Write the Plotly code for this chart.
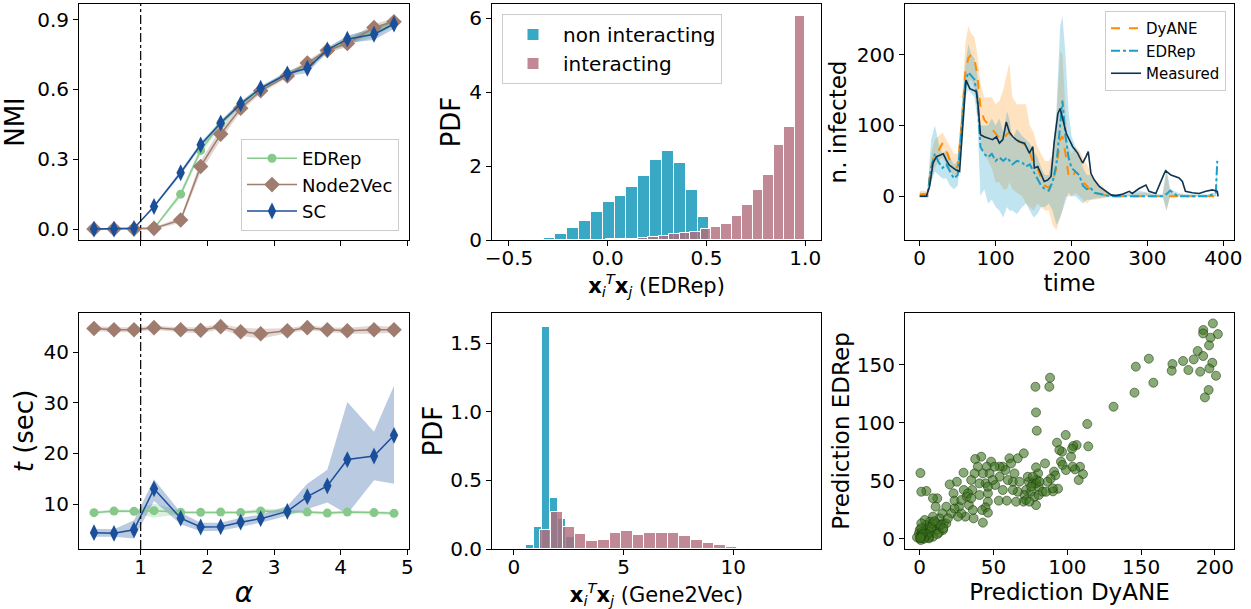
import plotly.graph_objects as go

# ---------------- data: panel A / B (vs alpha) ----------------
alpha = [0.3, 0.6, 0.9, 1.2, 1.6, 1.9, 2.2, 2.5, 2.8, 3.2, 3.5, 3.8, 4.1, 4.5, 4.8]

nmi_edrep = [0, 0, 0, 0.003, 0.150, 0.338, 0.452, 0.535, 0.598, 0.668, 0.700, 0.765, 0.810, 0.845, 0.890]
nmi_edrep_err = [0, 0, 0, 0.005, 0.015, 0.015, 0.015, 0.012, 0.010, 0.010, 0.012, 0.012, 0.020, 0.020, 0.015]
nmi_n2v = [0, 0, 0, 0.003, 0.039, 0.269, 0.408, 0.519, 0.594, 0.658, 0.713, 0.767, 0.797, 0.866, 0.891]
nmi_n2v_err = [0, 0, 0, 0.005, 0.012, 0.025, 0.025, 0.015, 0.012, 0.010, 0.012, 0.010, 0.015, 0.015, 0.015]
nmi_sc = [0, 0, 0.003, 0.097, 0.242, 0.362, 0.456, 0.538, 0.605, 0.667, 0.691, 0.770, 0.816, 0.837, 0.881]
nmi_sc_err = [0, 0, 0, 0.005, 0.010, 0.010, 0.010, 0.010, 0.010, 0.010, 0.020, 0.010, 0.015, 0.025, 0.020]

t_edrep = [8.29, 8.6, 8.55, 8.68, 8.35, 8.35, 8.4, 8.3, 8.6, 8.5, 8.4, 8.2, 8.4, 8.3, 8.15]
t_edrep_err = [0.3, 0.3, 0.3, 1.4, 0.3, 0.3, 0.3, 0.3, 0.5, 0.3, 0.3, 0.3, 0.3, 0.3, 0.3]
t_n2v = [44.74, 44.5, 44.5, 44.9, 44.5, 44.4, 45.1, 44.1, 43.7, 44.3, 44.9, 44.5, 44.3, 44.5, 44.5]
t_n2v_err = [0.5, 0.5, 0.5, 0.4, 0.5, 0.6, 0.5, 0.8, 1.0, 0.5, 0.5, 0.5, 0.6, 0.8, 0.6]
t_sc = [4.33, 4.2, 4.9, 13.0, 7.2, 5.45, 5.5, 6.4, 7.1, 8.55, 11.45, 13.6, 18.8, 19.5, 23.6]
t_sc_lo = [3.5, 3.5, 3.2, 10.6, 6.0, 4.6, 4.7, 5.5, 6.3, 7.7, 9.0, 10.3, 8.0, 14.7, 14.0]
t_sc_hi = [5.1, 5.0, 6.8, 14.9, 8.3, 6.3, 6.3, 7.3, 7.9, 9.6, 14.0, 16.8, 30.2, 24.3, 33.4]

# ---------------- data: panel C / D (histograms) ----------------
edrep_non_edges = [-0.325, -0.265, -0.205, -0.145, -0.085, -0.025, 0.035, 0.095, 0.155, 0.215,
                   0.275, 0.335, 0.395, 0.455, 0.515]
edrep_non_pdf = [0.054, 0.16, 0.315, 0.52, 0.76, 1.02, 1.2, 1.43, 1.73, 2.15, 2.41, 2.08, 1.35, 0.61]
edrep_int_edges = [-0.06, -0.007, 0.046, 0.099, 0.152, 0.205, 0.258, 0.311, 0.364, 0.417, 0.47,
                   0.523, 0.576, 0.629, 0.682, 0.735, 0.788, 0.841, 0.894, 0.947, 1.0]
edrep_int_pdf = [0.01, 0.02, 0.03, 0.036, 0.054, 0.07, 0.12, 0.15, 0.2, 0.225, 0.31, 0.34, 0.43,
                 0.64, 0.95, 1.35, 1.76, 2.56, 3.06, 6.05]

gene_non_edges = [0.545, 0.915, 1.285, 1.655, 2.025, 2.395, 2.765, 3.135]
gene_non_pdf = [0.027, 0.16, 1.62, 0.374, 0.217, 0.09, 0.01]
gene_int_edges = [1.18, 1.71, 2.24, 2.77, 3.30, 3.83, 4.36, 4.89, 5.42, 5.95, 6.48, 7.01, 7.54,
                  8.07, 8.60, 9.13, 9.66, 10.19, 10.72]
gene_int_pdf = [0.138, 0.268, 0.157, 0.111, 0.058, 0.065, 0.118, 0.13, 0.101, 0.118, 0.114, 0.114,
                0.094, 0.065, 0.043, 0.027, 0.015, 0.005]

# ---------------- data: panel E (time series) ----------------
meas_time = [0, 8.8, 13, 17.5, 22, 26, 31, 35, 39, 44, 48, 52.5, 55, 59, 61, 66, 70, 74.5, 77, 80,
             85, 90, 96, 101, 105, 109.5, 114, 118, 122.6, 127, 131, 138, 144.5, 149, 151, 155.5,
             160, 164, 168.6, 173, 177, 182, 185, 188, 193, 197, 201.5, 208, 214.6, 219, 222, 225.6,
             230, 236.5, 245, 252, 258, 267, 276, 280, 289, 298, 302, 311, 322, 324, 331, 337,
             341.7, 346, 350, 359, 368, 377, 385.5, 392, 393]
measured = [0, 0, 14, 47, 56, 58, 60, 51, 44, 40, 37, 35, 70, 136, 164, 152, 150, 148, 127, 87,
            84, 82, 80, 84, 75, 80, 105, 91, 84, 80, 77, 75, 61, 70, 40, 42, 32, 21, 23, 28,
            75, 117, 124, 112, 89, 80, 70, 61, 47, 56, 63, 32, 23, 14, 7, 2, 1, 3, 7, 4,
            11, 16, 7, 4, 32, 36, 30, 28, 26, 21, 7, 5, 4, 7, 9, 7, 0]

time = [0, 10, 15, 20, 25, 30, 35, 40, 45, 50, 55, 60, 64, 68, 72, 76, 80, 85, 90, 95, 100, 105,
        110, 115, 118, 122, 128, 135, 140, 145, 150, 155, 160, 165, 170, 175, 180, 185, 188, 192,
        196, 200, 205, 210, 215, 220, 225, 230, 240, 250, 260, 270, 280, 290, 300, 310, 320, 325,
        330, 340, 350, 360, 370, 380, 390, 392]
dyane = [3, 3, 40, 62, 65, 75, 65, 50, 45, 40, 100, 175, 195, 200, 195, 170, 125, 108, 102, 95, 88,
         82, 80, 88, 90, 82, 80, 76, 72, 62, 45, 40, 25, 15, 12, 20, 40, 80, 85, 60, 30, 25, 35,
         30, 20, 15, 8, 5, 2, 0, 0, 0, 0, 0, 0, 0, 0, 0, 0, 0, 0, 0, 0, 0, 0, 0]
dyane_lo = [0, 0, 20, 40, 50, 55, 45, 35, 30, 25, 80, 150, 160, 165, 150, 120, 80, 60, 50, 40, 20,
            20, 10, 10, 20, 10, 5, 0, -10, -15, -20, -10, -15, -20, -20, -40, -48, -30, -20, 0, 0,
            0, 5, 0, -5, -10, -5, -5, -3, 0, 0, 0, 0, 0, 0, 0, 0, -20, 0, 0, 0, 0, 0, 0, 0, 0]
dyane_hi = [8, 8, 60, 80, 85, 90, 80, 70, 60, 60, 120, 215, 240, 230, 225, 200, 160, 140, 140, 140,
            130, 135, 150, 175, 188, 140, 130, 130, 130, 100, 90, 70, 60, 50, 50, 60, 110, 205, 200,
            120, 70, 60, 70, 65, 55, 45, 35, 25, 15, 3, 2, 2, 3, 5, 5, 2, 2, 35, 5, 3, 2, 2, 2, 2, 2, 2]
edrep_ts = [0, 0, 40, 60, 48, 40, 45, 35, 25, 30, 100, 160, 175, 170, 165, 140, 70, 60, 55, 60, 50,
            55, 50, 55, 50, 45, 50, 48, 42, 45, 35, 25, 15, 10, 8, 20, 45, 100, 135, 85, 55, 40, 35,
            30, 15, 10, 12, 5, 3, 0, 0, 0, 0, 0, 0, 0, 0, 3, 8, 0, 0, 0, 0, 0, 5, 50]
edrep_lo = [0, 0, 20, 35, 30, 25, 25, 15, 10, 15, 80, 140, 150, 145, 140, 110, 0, 10, -10, -5, -15,
            -20, -30, -15, -20, -20, -25, -15, -10, -20, -30, -25, -15, -15, -10, -20, -40, -30, -20,
            -10, 5, 0, 0, -5, -10, -5, -5, -3, -2, 0, 0, 0, 0, 0, 0, 0, 0, -20, 0, 0, 0, 0, 0, 0, 0, 10]
edrep_hi = [5, 5, 80, 100, 75, 60, 65, 55, 45, 50, 120, 185, 215, 200, 195, 170, 100, 100, 100, 110,
            100, 110, 90, 120, 110, 80, 95, 85, 80, 75, 65, 55, 40, 30, 30, 60, 120, 240, 255, 200,
            120, 85, 70, 60, 40, 30, 30, 20, 10, 3, 3, 5, 5, 8, 5, 3, 3, 40, 10, 5, 3, 3, 3, 3, 5, 58]

# ---------------- data: panel F (scatter) ----------------
pred_dyane = [192.1, 198.6, 202, 197, 196, 192, 188.3, 192, 198.2, 196.2, 190, 200.7, 195.7, 193.2,
              185.6, 182, 178.4, 171.2, 170.7, 158.3, 155.2, 146.4, 145.5, 131.3, 78.4, 87.8, 88.3,
              78.8, 79.3, 113.5, 98.9, 114.2, 93, 96.4, 106.3, 104, 102.5, 108.6, 110.6, 107.7,
              105.2, 94.6, 95.7, 96.8, 91, 91.9, 84.9, 93.7, 90.3, 88.7, 86.5, 80.2, 78.8, 79.3,
              80.6, 76.6, 73.9, 72.1, 71, 75.5, 78.8, 77.7, 80.6, 83.3, 70.3, 65.3, 66.4, 63.1, 63.1,
              59.7, 58.1, 56.3, 60.8, 66.4, 70.5, 54.1, 48.4, 45.5, 50.7, 47.3, 51.1, 42.8, 41.7,
              37.6, 39.4, 37.2, 34.9, 35.6, 29.9, 29.7, 25.2, 20.3, 22.9, 31.8, 40.5, 46.2, 46.2,
              44.6, 42.3, 46.2, 42.8, 53.6, 59, 33.3, 36, 36.5, 30.9, 28.2, 26.6, 23.6, 18, 15.3,
              11.9, 4.5, 1.1, 0.5, 9, 10.8, 13.5, 16.2, 21.4, 25.9, 9, 6.8, 4.5, 3.4, 2.3, 1.1, 0,
              0.5, 2.3, 4.5, 6.8, 7.9, 11.3, 13.5, 15.8, 18, 19.1, 5.6, 3.4, 1.1, 9, 11.3, 13, 9,
              6.3, 0, -0.5, 0.7, -1.8, 1.8, 4, 23.6, 28.2, 32.7, 34.9, 44.6, 46.2, 40.5, 56.3, 54.1,
              49.5, 61.9, 64.2, 67.6, 73.2, 76.6, 78.8, 81.1, 75.5, 72.1, 74.3, 85.6, 90.1, 99.1,
              103.6, 103.2, 2, 3, 1, 5, 7, 8, 12, 14, 16, 10, 6, 3, 2, 1, 0.5]
pred_edrep = [179.9, 185.6, 176.4, 173.3, 166.7, 177, 161.8, 157.5, 151.7, 146.8, 144, 140.5, 128.2,
              121.8, 154.6, 145.4, 153.2, 150.6, 144.8, 134.5, 155.2, 148.3, 125.9, 113.8, 131, 131,
              138.8, 108.9, 93.1, 98.9, 89.4, 79.6, 82.8, 75, 80.7, 79.9, 70.7, 62, 55.7, 50.6,
              59.8, 76.4, 66.4, 63.5, 57.8, 54.6, 64.9, 43.1, 40.8, 51.7, 49.1, 56.3, 61.5, 50.6,
              44.8, 47.7, 49.1, 42, 37.6, 40.5, 29, 36.2, 37.6, 40.5, 31.9, 31.9, 40.5, 49.1, 42,
              50.6, 59.2, 62.1, 69.3, 69.3, 73.6, 62.1, 66.4, 62.1, 62.1, 56.3, 46.3, 56.3, 70.7,
              68.7, 62.1, 56.3, 50.6, 42, 42, 56.9, 49.1, 46.8, 39.1, 36.2, 37.6, 39.1, 31.9, 27,
              24.7, 22.4, 13.8, 32.8, 32.8, 29, 24.7, 17.5, 19, 21.8, 27.6, 26.1, 27.6, 21.8, 34.8,
              41.1, 40.5, 56.6, 34.8, 27.6, 17.5, 13.2, 21.8, 19, 19, 14.7, 11.8, 7.5, 4.6, 1.7, 0.3,
              3.2, 0.3, 1.7, 4.6, 8.9, 7.5, 10.3, 7.5, 13.2, 17.5, 7.5, 16.1, 13.2, 13.2, 13.2, 5.2,
              1.7, 0.3, 7.5, 4.6, -1.1, 1.1, 6, 3.2, 32.8, 33.3, 39.1, 34.8, 47.7, 44.8, 47.7, 42,
              53.4, 50.6, 64.9, 56.3, 49.1, 53.4, 53.4, 47.7, 49.1, 44.8, 33.3, 31.9, 40.5, 43.4,
              59.2, 62.1, 77.6, 2, 5, 9, 3, 6, 10, 4, 12, 9, 15, 1, 0, 4, 2, 0.5]

# ---------------- styling ----------------
FONT = "DejaVu Sans"
C_ED = "#86c98a"
C_N2V = "#a07c6e"
C_SC = "#1c4f9a"
C_TEAL = "#38a8c4"
C_PINK = "rgba(178,107,124,0.8)"
C_ORANGE = "#ff8c00"
C_TSBLUE = "#1b9fc8"
C_NAVY = "#0d3450"

W, H = 1251, 609


def xdom(x0, x1):
    return [x0 / W, x1 / W]


def ydom(y0, y1):
    return [1 - y1 / H, 1 - y0 / H]


def rgba(hexc, a):
    h = hexc.lstrip("#")
    r, g, b = int(h[0:2], 16), int(h[2:4], 16), int(h[4:6], 16)
    return f"rgba({r},{g},{b},{a})"


fig = go.Figure()


def band(x, lo, hi, color, xa, ya):
    fig.add_trace(go.Scatter(x=x, y=lo, mode="lines", line=dict(width=0), showlegend=False,
                             hoverinfo="skip", xaxis=xa, yaxis=ya))
    fig.add_trace(go.Scatter(x=x, y=hi, mode="lines", line=dict(width=0), fill="tonexty",
                             fillcolor=color, showlegend=False, hoverinfo="skip", xaxis=xa, yaxis=ya))


def pm(v, e, s):
    return [a + s * b for a, b in zip(v, e)]


# Panel A
series_A = [("EDRep", nmi_edrep, nmi_edrep_err, C_ED, "circle", 9),
            ("Node2Vec", nmi_n2v, nmi_n2v_err, C_N2V, "diamond", 12),
            ("SC", nmi_sc, nmi_sc_err, C_SC, "diamond-tall", 12)]
for name, v, e, c, sym, ms in series_A:
    band(alpha, pm(v, e, -1), pm(v, e, 1), rgba(c, 0.3), "x", "y")
for name, v, e, c, sym, ms in series_A:
    fig.add_trace(go.Scatter(x=alpha, y=v, name=name, mode="lines+markers",
                             line=dict(color=c, width=1.5), marker=dict(symbol=sym, size=ms, color=c),
                             xaxis="x", yaxis="y", legend="legend"))

# Panel B
band(alpha, pm(t_edrep, t_edrep_err, -1), pm(t_edrep, t_edrep_err, 1), rgba(C_ED, 0.3), "x2", "y2")
band(alpha, pm(t_n2v, t_n2v_err, -1), pm(t_n2v, t_n2v_err, 1), rgba(C_N2V, 0.3), "x2", "y2")
band(alpha, t_sc_lo, t_sc_hi, rgba(C_SC, 0.3), "x2", "y2")
for name, v, c, sym, ms in [("EDRep", t_edrep, C_ED, "circle", 9),
                            ("Node2Vec", t_n2v, C_N2V, "diamond", 12),
                            ("SC", t_sc, C_SC, "diamond-tall", 12)]:
    fig.add_trace(go.Scatter(x=alpha, y=v, name=name, mode="lines+markers", showlegend=False,
                             line=dict(color=c, width=1.5), marker=dict(symbol=sym, size=ms, color=c),
                             xaxis="x2", yaxis="y2"))


def hist(edges, pdf, color, name, xa, ya, show):
    centers = [(edges[i] + edges[i + 1]) / 2 for i in range(len(pdf))]
    widths = [edges[i + 1] - edges[i] for i in range(len(pdf))]
    fig.add_trace(go.Bar(x=centers, y=pdf, width=widths, name=name, showlegend=show,
                         marker=dict(color=color, line=dict(color="white", width=1)),
                         xaxis=xa, yaxis=ya, legend="legend2"))


hist(edrep_non_edges, edrep_non_pdf, C_TEAL, "non interacting", "x3", "y3", True)
hist(edrep_int_edges, edrep_int_pdf, C_PINK, "interacting", "x3", "y3", True)
hist(gene_non_edges, gene_non_pdf, C_TEAL, "non interacting", "x4", "y4", False)
hist(gene_int_edges, gene_int_pdf, C_PINK, "interacting", "x4", "y4", False)

# Panel E
band(time, dyane_lo, dyane_hi, rgba(C_ORANGE, 0.25), "x5", "y5")
band(time, edrep_lo, edrep_hi, rgba(C_TSBLUE, 0.28), "x5", "y5")
fig.add_trace(go.Scatter(x=time, y=dyane, name="DyANE", mode="lines",
                         line=dict(color=C_ORANGE, width=2, dash="dash"),
                         xaxis="x5", yaxis="y5", legend="legend3"))
fig.add_trace(go.Scatter(x=time, y=edrep_ts, name="EDRep", mode="lines",
                         line=dict(color=C_TSBLUE, width=2, dash="dashdot"),
                         xaxis="x5", yaxis="y5", legend="legend3"))
fig.add_trace(go.Scatter(x=meas_time, y=measured, name="Measured", mode="lines",
                         line=dict(color=C_NAVY, width=1.6),
                         xaxis="x5", yaxis="y5", legend="legend3"))

# Panel F
fig.add_trace(go.Scatter(x=pred_dyane, y=pred_edrep, mode="markers", showlegend=False,
                         marker=dict(size=9, color="rgba(60,115,30,0.6)",
                                     line=dict(color="rgba(25,55,10,0.7)", width=0.8)),
                         xaxis="x6", yaxis="y6"))

# ---------------- axes ----------------
TICKF = dict(family=FONT, size=20, color="black")
base = dict(showline=True, linecolor="black", linewidth=1, mirror=True, ticks="outside",
            ticklen=5, tickcolor="black", showgrid=False, zeroline=False, tickfont=TICKF,
            automargin=False)
xbase = dict(base, ticklabelstandoff=-5)

TOP = ydom(4, 240)
BOT = ydom(313, 549)
XA = xdom(79, 409)
XC = xdom(492, 821)
XE = xdom(905, 1234)


def ttl(text, size, standoff):
    return dict(text=text, font=dict(family=FONT, size=size, color="black"), standoff=standoff)


fig.update_layout(
    xaxis=dict(xbase, domain=XA, anchor="y", range=[0.075, 5.025], tickvals=[1, 2, 3, 4, 5],
               showticklabels=False),
    yaxis=dict(base, domain=TOP, anchor="x", range=[-0.047, 0.967], tickvals=[0, 0.3, 0.6, 0.9],
               tickformat=".1f", title=ttl("NMI", 26, 5)),
    xaxis2=dict(xbase, domain=XA, anchor="y2", range=[0.075, 5.025], tickvals=[1, 2, 3, 4, 5],
                title=ttl("<i>α</i>", 28, 4)),
    yaxis2=dict(base, domain=BOT, anchor="x2", range=[1.1, 47.8], tickvals=[10, 20, 30, 40],
                title=ttl("<i>t</i> (sec)", 26, 2)),
    xaxis3=dict(xbase, domain=XC, anchor="y3", range=[-0.586, 1.08], tickvals=[-0.5, 0, 0.5, 1.0],
                tickformat=".1f",
                title=ttl("<b>x</b><sub><i>i</i></sub><sup><i>T</i></sup><b>x</b><sub><i>j</i></sub> (EDRep)", 21, 2)),
    yaxis3=dict(base, domain=TOP, anchor="x3", range=[0, 6.38], tickvals=[0, 2, 4, 6],
                title=ttl("PDF", 26, 1)),
    xaxis4=dict(xbase, domain=XC, anchor="y4", range=[-1.0, 14], tickvals=[0, 5, 10],
                title=ttl("<b>x</b><sub><i>i</i></sub><sup><i>T</i></sup><b>x</b><sub><i>j</i></sub> (Gene2Vec)", 21, 2)),
    yaxis4=dict(base, domain=BOT, anchor="x4", range=[0, 1.72], tickvals=[0, 0.5, 1.0, 1.5],
                tickformat=".1f", title=ttl("PDF", 26, 0)),
    xaxis5=dict(xbase, domain=XE, anchor="y5", range=[-19.4, 414], tickvals=[0, 100, 200, 300, 400],
                title=ttl("time", 23, 2)),
    yaxis5=dict(base, domain=TOP, anchor="x5", range=[-61.7, 271.5], tickvals=[0, 100, 200],
                title=ttl("n. infected", 23, 3)),
    xaxis6=dict(xbase, domain=XE, anchor="y6", range=[-9.95, 212.9], tickvals=[0, 50, 100, 150, 200],
                title=ttl("Prediction DyANE", 23, 2)),
    yaxis6=dict(base, domain=BOT, anchor="x6", range=[-8.9, 194.6], tickvals=[0, 50, 100, 150],
                title=ttl("Prediction EDRep", 23, 0)),
)

LEGBOX = dict(bgcolor="rgba(255,255,255,0.8)", bordercolor="#cccccc", borderwidth=1,
              traceorder="normal")
fig.update_layout(
    legend=dict(LEGBOX, x=399 / W, xanchor="right", y=1 - 231 / H, yanchor="bottom",
                itemwidth=50, font=dict(family=FONT, size=18, color="black")),
    legend2=dict(LEGBOX, x=502 / W, xanchor="left", y=1 - 14 / H, yanchor="top",
                 itemwidth=50, font=dict(family=FONT, size=20, color="black")),
    legend3=dict(LEGBOX, x=1226 / W, xanchor="right", y=1 - 11 / H, yanchor="top",
                 font=dict(family=FONT, size=15, color="black")),
)

fig.update_layout(
    width=W, height=H, margin=dict(l=0, r=0, t=0, b=0),
    paper_bgcolor="white", plot_bgcolor="white", barmode="overlay", bargap=0,
    font=dict(family=FONT, color="black"),
    shapes=[
        dict(type="line", xref="x", yref="y domain", x0=1, x1=1, y0=0, y1=1,
             line=dict(color="black", width=1.2, dash="dashdot")),
        dict(type="line", xref="x2", yref="y2 domain", x0=1, x1=1, y0=0, y1=1,
             line=dict(color="black", width=1.2, dash="dashdot")),
    ],
)

fig.write_html("out.html", config={"displayModeBar": False},
               post_script="document.body.style.margin='0';document.body.style.overflow='hidden';")
